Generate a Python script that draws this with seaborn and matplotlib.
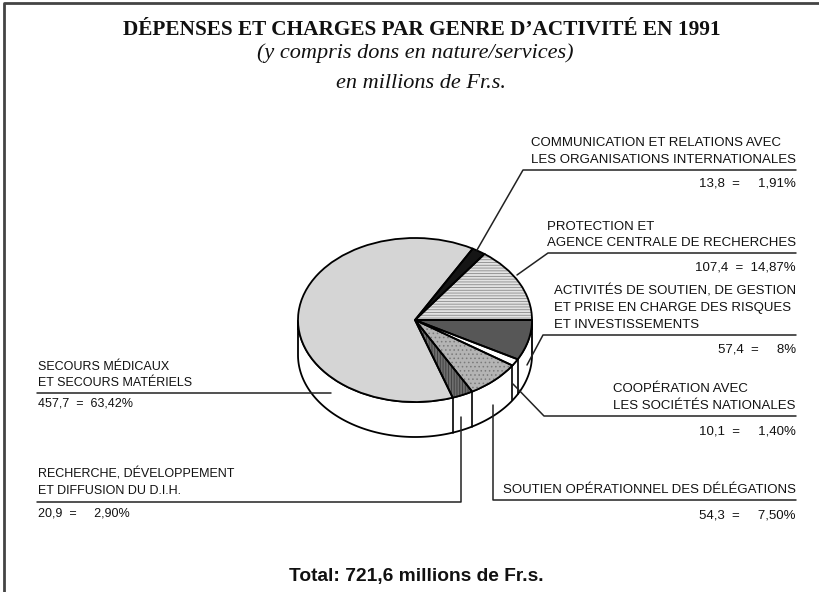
import numpy as np
import matplotlib
matplotlib.use("Agg")
import matplotlib.pyplot as plt
import seaborn as sns

# ---------------- data (pie order, counter-clockwise from 3 o'clock) ----------------
categories = [
    "PROTECTION ET\nAGENCE CENTRALE DE RECHERCHES",
    "COMMUNICATION ET RELATIONS AVEC\nLES ORGANISATIONS INTERNATIONALES",
    "SECOURS MÉDICAUX\nET SECOURS MATÉRIELS",
    "RECHERCHE, DÉVELOPPEMENT\nET DIFFUSION DU D.I.H.",
    "SOUTIEN OPÉRATIONNEL DES DÉLÉGATIONS",
    "COOPÉRATION AVEC\nLES SOCIÉTÉS NATIONALES",
    "ACTIVITÉS DE SOUTIEN, DE GESTION\nET PRISE EN CHARGE DES RISQUES\nET INVESTISSEMENTS",
]
values = [107.4, 13.8, 457.7, 20.9, 54.3, 10.1, 57.4]
percents = ["14,87", "1,91", "63,42", "2,90", "7,50", "1,40", "8"]
total_label = "Total: 721,6 millions de Fr.s."

fills = ["#e2e2e2", "#151515", "#d5d5d5", "#6e6e6e", "#b4b4b4", "#ffffff", "#575757"]
hatches = ["------", None, None, "||||||", "....", None, None]
hatch_cols = ["#8a8a8a", None, None, "#3a3a3a", "#7a7a7a", None, None]

sns.set_style("white")
plt.rcParams["hatch.linewidth"] = 0.6

W, H = 820, 592
fig = plt.figure(figsize=(W / 100, H / 100), dpi=100)

# pie geometry in pixels
cx, cy, a, b, depth = 415, 320, 117, 82, 35
x0, x1 = -1.2, 1.2
y0, y1 = -1.7, 1.2
left = cx + x0 * a
top = cy - y1 * b
bottom = cy - y0 * b
axp = fig.add_axes([left / W, (H - bottom) / H, (x1 - x0) * a / W, (bottom - top) / H])

d = depth / b
# cylinder side
t = np.linspace(np.pi, 2 * np.pi, 200)
xs = np.concatenate([np.cos(t), np.cos(t[::-1])])
ys = np.concatenate([np.sin(t), np.sin(t[::-1]) - d])
axp.fill(xs, ys, facecolor="white", edgecolor="black", lw=1.3, zorder=1)

# top face
wedges, _ = axp.pie(values, colors=fills, startangle=0, counterclock=True,
                    wedgeprops=dict(linewidth=0, edgecolor="none"))
for w, h, hc in zip(wedges, hatches, hatch_cols):
    w.set_zorder(2)
    if h:
        w.set_hatch(h)
        w.set_edgecolor(hc)
wedges2, _ = axp.pie(values, colors=["none"] * len(values), startangle=0, counterclock=True,
                     wedgeprops=dict(linewidth=1.3, edgecolor="black", fill=False))
for w in wedges2:
    w.set_zorder(3)

# boundaries on the visible side
cum = np.cumsum(values) / np.sum(values) * 360.0
for ang in cum[:-1]:
    r = np.deg2rad(ang)
    if np.sin(r) < 0:
        axp.plot([np.cos(r), np.cos(r)], [np.sin(r), np.sin(r) - d], color="black", lw=1.2, zorder=1.5)

axp.set_aspect("auto")
axp.set_xlim(x0, x1)
axp.set_ylim(y0, y1)
axp.axis("off")

# ---------------- overlay for texts and leaders ----------------
ax = fig.add_axes([0, 0, 1, 1], zorder=5)
ax.patch.set_visible(False)
ax.set_xlim(0, W)
ax.set_ylim(H, 0)
ax.axis("off")

serif = ["Liberation Serif", "DejaVu Serif"]
sans = ["Liberation Sans", "DejaVu Sans"]
fs = 9.5
fs_left = 9.0
lc = "#222222"
lw = 1.1
tc = "#111111"

# frame
ax.plot([4, 4, W], [H, 3, 3], color="#444444", lw=2.0, solid_capstyle="butt")

ax.text(422, 30, "DÉPENSES ET CHARGES PAR GENRE D’ACTIVITÉ EN 1991", ha="center", va="center",
        family=serif, fontsize=15.3, fontweight="bold", color=tc)
ax.text(415, 53, "(y compris dons en nature/services)", ha="center", va="center",
        family=serif, fontsize=16, style="italic", color=tc)
ax.text(421, 84, "en millions de Fr.s.", ha="center", va="center",
        family=serif, fontsize=16, style="italic", color=tc)
ax.text(416, 576, total_label, ha="center", va="center", family=sans, fontsize=13.8,
        fontweight="bold", color=tc)


def vlabel(i):
    v = f"{values[i]:.1f}".replace(".", ",")
    sep = "  =  " if len(percents[i]) == 5 else "  =     "
    return f"{v}{sep}{percents[i]}%"


def ltext(x, y, s, ha="right", ma="left", size=fs):
    ax.text(x, y, s, ha=ha, va="bottom", multialignment=ma, family=sans, fontsize=size,
            color=tc, linespacing=1.5)


def vtext(x, y, i, ha="right", size=fs):
    ax.text(x, y, vlabel(i), ha=ha, va="center", family=sans, fontsize=size, color=tc)


R = 796
# communication (1)
ltext(R, 166, categories[1])
ax.plot([477, 523, R], [250, 170, 170], color=lc, lw=lw)
vtext(R, 184, 1)
# protection (0)
ltext(R, 249, categories[0])
ax.plot([517, 548, R], [275, 253, 253], color=lc, lw=lw)
vtext(R, 268, 0)
# activites (6)
ltext(R, 331, categories[6])
ax.plot([527, 543, R], [365, 335, 335], color=lc, lw=lw)
vtext(R, 350, 6)
# cooperation (5)
ltext(R, 412, categories[5])
ax.plot([513, 544, R], [384, 416, 416], color=lc, lw=lw)
vtext(R, 431, 5)
# soutien (4)
ltext(R, 496, categories[4])
ax.plot([493, 493, R], [405, 500, 500], color=lc, lw=lw)
vtext(R, 516, 4)
# secours (2)
ltext(38, 389, categories[2], ha="left", size=fs_left)
ax.plot([37, 331], [393, 393], color=lc, lw=lw)
vtext(38, 404, 2, ha="left", size=fs_left)
# recherche (3)
ltext(38, 497, categories[3], ha="left", size=fs_left)
ax.plot([37, 461, 461], [502, 502, 417], color=lc, lw=lw)
vtext(38, 514, 3, ha="left", size=fs_left)

fig.savefig("out.png", dpi=100)
